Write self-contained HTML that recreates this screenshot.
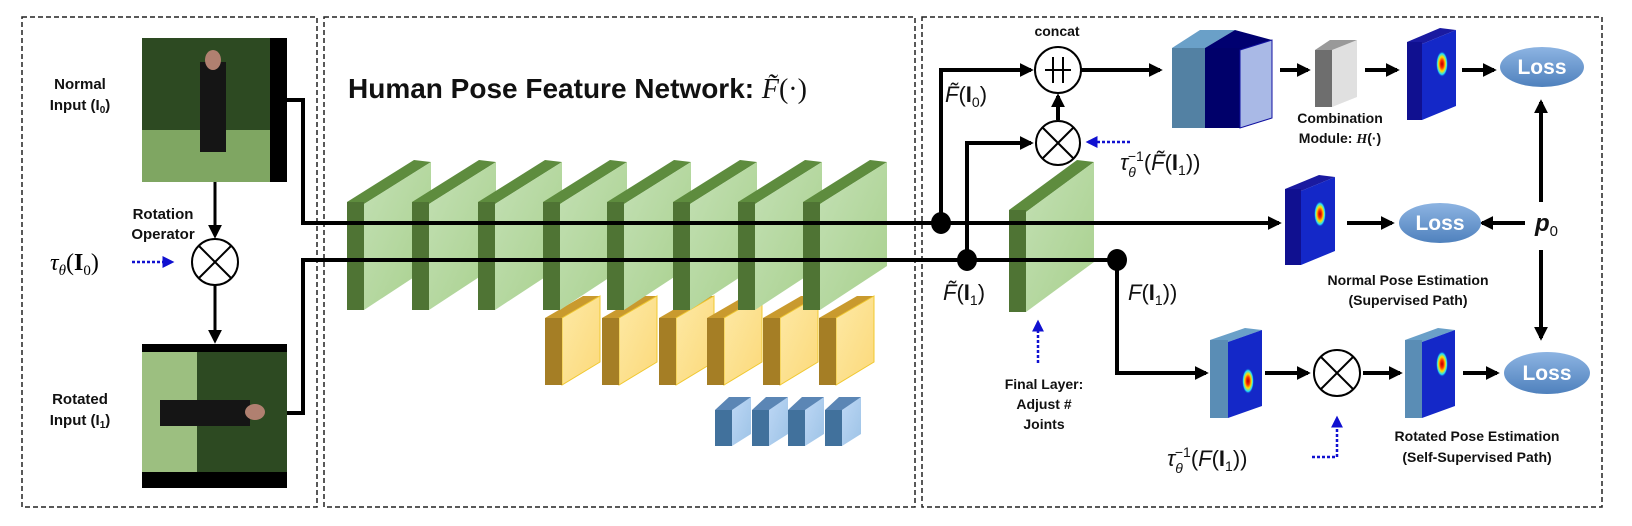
<!DOCTYPE html>
<html><head><meta charset="utf-8"><style>
body{margin:0;background:#fff}
svg{display:block}
text{font-family:"Liberation Sans",sans-serif}
.m{font-family:"Liberation Serif",serif}
</style></head><body>
<svg width="1632" height="526" viewBox="0 0 1632 526" xmlns="http://www.w3.org/2000/svg">
<defs>
<marker id="A" viewBox="0 0 10 10" markerWidth="14" markerHeight="14" refX="8" refY="5" orient="auto" markerUnits="userSpaceOnUse"><path d="M0,0 L10,5 L0,10 z" fill="#000"/></marker>
<marker id="b" viewBox="0 0 10 10" markerWidth="12" markerHeight="12" refX="8" refY="5" orient="auto" markerUnits="userSpaceOnUse"><path d="M0,0 L10,5 L0,10 z" fill="#1010d0"/></marker>
<radialGradient id="hm" cx="0.5" cy="0.5" r="0.5"><stop offset="0" stop-color="#b00000"/><stop offset="0.3" stop-color="#ff3000"/><stop offset="0.55" stop-color="#ffe000"/><stop offset="0.8" stop-color="#20e0ff"/><stop offset="1" stop-color="#1020c0" stop-opacity="0"/></radialGradient>
<linearGradient id="gl" x1="0" y1="0" x2="1" y2="1"><stop offset="0" stop-color="#c3e0b4"/><stop offset="1" stop-color="#a8d08d"/></linearGradient>
<linearGradient id="yl" x1="0" y1="0" x2="1" y2="1"><stop offset="0" stop-color="#fde9a5"/><stop offset="1" stop-color="#fcd97a"/></linearGradient>
<linearGradient id="bl" x1="0" y1="0" x2="1" y2="1"><stop offset="0" stop-color="#bdd7f5"/><stop offset="1" stop-color="#9dc3e6"/></linearGradient>
<linearGradient id="lo" x1="0" y1="0" x2="0" y2="1"><stop offset="0" stop-color="#8db4e2"/><stop offset="1" stop-color="#4f81bd"/></linearGradient>
<g id="gb"><polygon points="0,202 67,160 84,162 17,204" fill="#5e8c3e"/><polygon points="17,204 84,162 84,266 17,310" fill="url(#gl)"/><rect x="0" y="202" width="17" height="108" fill="#4f7434"/></g>
<g id="yb"><polygon points="0,318 38,296 55,296 17,318" fill="#c99a2e"/><polygon points="17,318 55,296 55,362 17,385" fill="url(#yl)" stroke="#f0c830"/><rect x="0" y="318" width="17" height="67" fill="#a57e25"/></g>
<g id="bb"><polygon points="0,410 14,397 36,397 22,410" fill="#5b86b5"/><polygon points="17,410 36,397 36,434 17,446" fill="url(#bl)"/><rect x="0" y="410" width="17" height="36" fill="#41719c"/></g>
</defs>

<g fill="none" stroke="#222" stroke-width="1.5" stroke-dasharray="5,3">
<rect x="22" y="17" width="295" height="490"/>
<rect x="324" y="17" width="591" height="490"/>
<rect x="922" y="17" width="680" height="490"/>
</g>

<!-- photos -->
<rect x="142" y="38" width="145" height="144" fill="#000"/>
<rect x="142" y="38" width="128" height="144" fill="#2d4a22"/>
<rect x="142" y="130" width="128" height="52" fill="#7fa662"/>
<rect x="200" y="62" width="26" height="90" fill="#151515"/>
<ellipse cx="213" cy="60" rx="8" ry="10" fill="#b08070"/>
<rect x="142" y="344" width="145" height="144" fill="#000"/>
<rect x="142" y="352" width="145" height="120" fill="#2d4a22"/>
<rect x="142" y="352" width="55" height="120" fill="#9cbf80"/>
<rect x="160" y="400" width="90" height="26" fill="#151515"/>
<ellipse cx="255" cy="412" rx="10" ry="8" fill="#b08070"/>

<g font-weight="bold" font-size="15" text-anchor="middle" fill="#111">
<text x="80" y="89">Normal</text><text x="80" y="110">Input (I<tspan font-size="10" dy="3">0</tspan><tspan dy="-3">)</tspan></text>
<text x="163" y="219">Rotation</text><text x="163" y="239">Operator</text>
<text x="80" y="404">Rotated</text><text x="80" y="425">Input (I<tspan font-size="10" dy="3">1</tspan><tspan dy="-3">)</tspan></text>
</g>
<text class="m" x="50" y="270" font-size="24" font-style="italic">τ<tspan font-size="15" dy="5">θ</tspan><tspan dy="-5" font-style="normal">(<tspan font-weight="bold">I</tspan><tspan font-size="15" dy="5">0</tspan><tspan dy="-5">)</tspan></tspan></text>
<line x1="132" y1="262" x2="172" y2="262" stroke="#1010d0" stroke-width="2.5" stroke-dasharray="3,2" marker-end="url(#b)"/>
<g stroke="#000" stroke-width="3" fill="none">
<line x1="215" y1="182" x2="215" y2="236" marker-end="url(#A)"/>
<line x1="215" y1="285" x2="215" y2="341" marker-end="url(#A)"/>
</g>
<g stroke="#000" stroke-width="2" fill="#fff"><circle cx="215" cy="262" r="23"/><line x1="199" y1="246" x2="231" y2="278"/><line x1="231" y1="246" x2="199" y2="278"/></g>

<text x="348" y="98" font-size="28" font-weight="bold" fill="#111">Human Pose Feature Network: <tspan class="m" font-style="italic" font-weight="normal">F̃</tspan><tspan class="m" font-weight="normal">(·)</tspan></text>

<use href="#bb" x="715"/><use href="#bb" x="752"/><use href="#bb" x="788"/><use href="#bb" x="825"/>
<use href="#yb" x="545"/><use href="#yb" x="602"/><use href="#yb" x="659"/><use href="#yb" x="707"/><use href="#yb" x="763"/><use href="#yb" x="819"/>
<use href="#gb" x="347"/><use href="#gb" x="412"/><use href="#gb" x="478"/><use href="#gb" x="543"/><use href="#gb" x="607"/><use href="#gb" x="673"/><use href="#gb" x="738"/><use href="#gb" x="803"/>
<g><polygon points="1009,210 1077,160 1094,162 1026,212" fill="#5e8c3e"/><polygon points="1026,212 1094,162 1094,262 1026,312" fill="url(#gl)"/><rect x="1009" y="210" width="17" height="102" fill="#4f7434"/></g>

<g stroke="#000" stroke-width="4" fill="none">
<polyline points="287,100 303,100 303,223 1279,223" marker-end="url(#A)"/>
<polyline points="287,413 303,413 303,260 1117,260 1117,373 1206,373" marker-end="url(#A)"/>
<polyline points="941,223 941,70 1031,70" marker-end="url(#A)"/>
<polyline points="967,260 967,143 1031,143" marker-end="url(#A)"/>
<line x1="1058" y1="120" x2="1058" y2="96" marker-end="url(#A)"/>
<line x1="1081" y1="70" x2="1160" y2="70" marker-end="url(#A)"/>
<line x1="1280" y1="70" x2="1308" y2="70" marker-end="url(#A)"/>
<line x1="1365" y1="70" x2="1397" y2="70" marker-end="url(#A)"/>
<line x1="1462" y1="70" x2="1494" y2="70" marker-end="url(#A)"/>
<line x1="1347" y1="223" x2="1392" y2="223" marker-end="url(#A)"/>
<line x1="1525" y1="223" x2="1482" y2="223" marker-end="url(#A)"/>
<line x1="1541" y1="202" x2="1541" y2="102" marker-end="url(#A)"/>
<line x1="1541" y1="250" x2="1541" y2="338" marker-end="url(#A)"/>
<line x1="1265" y1="373" x2="1308" y2="373" marker-end="url(#A)"/>
<line x1="1363" y1="373" x2="1400" y2="373" marker-end="url(#A)"/>
<line x1="1463" y1="373" x2="1497" y2="373" marker-end="url(#A)"/>
</g>
<g fill="#000"><ellipse cx="941" cy="223" rx="10" ry="11"/><ellipse cx="967" cy="260" rx="10" ry="11"/><ellipse cx="1117" cy="260" rx="10" ry="11"/></g>

<g stroke="#000" stroke-width="2" fill="#fff">
<circle cx="1058" cy="70" r="23"/><line x1="1053" y1="57" x2="1053" y2="83"/><line x1="1063" y1="57" x2="1063" y2="83"/><line x1="1045" y1="70" x2="1071" y2="70"/>
<circle cx="1058" cy="143" r="22"/><line x1="1043" y1="128" x2="1073" y2="158"/><line x1="1073" y1="128" x2="1043" y2="158"/>
<circle cx="1337" cy="373" r="23"/><line x1="1321" y1="357" x2="1353" y2="389"/><line x1="1353" y1="357" x2="1321" y2="389"/>
</g>

<!-- big concat block -->
<polygon points="1172,48 1200,30 1235,30 1205,48" fill="#6aa0c8"/>
<rect x="1172" y="48" width="33" height="80" fill="#5381a3"/>
<polygon points="1205,48 1235,30 1272,40 1240,50" fill="#000070"/>
<rect x="1205" y="48" width="35" height="80" fill="#00006a"/>
<polygon points="1240,50 1272,40 1272,118 1240,128" fill="#a9b9e6" stroke="#1010a0"/>
<!-- gray -->
<polygon points="1315,50 1330,40 1357,40 1338,50" fill="#999"/>
<rect x="1315" y="50" width="17" height="57" fill="#6e6e6e"/>
<polygon points="1332,50 1357,40 1357,97 1332,107" fill="#e0e0e0"/>
<!-- heatmaps -->
<polygon points="1407,42 1440,28 1456,30 1422,44" fill="#1a1aa0"/><rect x="1407" y="42" width="15" height="78" fill="#101090"/><polygon points="1422,44 1456,30 1456,106 1422,120" fill="#1428c8"/><ellipse cx="1442" cy="64" rx="6" ry="13" fill="url(#hm)"/>
<polygon points="1285,189 1319,175 1335,177 1301,191" fill="#1a1aa0"/><rect x="1285" y="189" width="16" height="76" fill="#101090"/><polygon points="1301,191 1335,177 1335,251 1301,265" fill="#1428c8"/><ellipse cx="1320" cy="214" rx="6" ry="13" fill="url(#hm)"/>
<polygon points="1210,340 1245,328 1262,330 1228,342" fill="#6aa0c8"/><rect x="1210" y="340" width="18" height="78" fill="#5a8db5"/><polygon points="1228,342 1262,330 1262,406 1228,418" fill="#1428c8"/><ellipse cx="1248" cy="381" rx="6" ry="13" fill="url(#hm)"/>
<polygon points="1405,340 1438,328 1455,330 1422,342" fill="#6aa0c8"/><rect x="1405" y="340" width="17" height="78" fill="#5a8db5"/><polygon points="1422,342 1455,330 1455,406 1422,418" fill="#1428c8"/><ellipse cx="1442" cy="364" rx="6" ry="13" fill="url(#hm)"/>
<g fill="url(#lo)"><ellipse cx="1542" cy="67" rx="42" ry="20"/><ellipse cx="1440" cy="223" rx="41" ry="20"/><ellipse cx="1547" cy="373" rx="43" ry="21"/></g>
<g fill="#fff" font-size="21" font-weight="bold" text-anchor="middle"><text x="1542" y="74">Loss</text><text x="1440" y="230">Loss</text><text x="1547" y="380">Loss</text></g>

<g font-weight="bold" font-size="14" text-anchor="middle" fill="#111">
<text x="1057" y="36">concat</text>
<text x="1340" y="123">Combination</text><text x="1340" y="143">Module: <tspan font-style="italic" class="m">H</tspan>(·)</text>
<text x="1408" y="285">Normal Pose Estimation</text><text x="1408" y="305">(Supervised Path)</text>
<text x="1477" y="441">Rotated Pose Estimation</text><text x="1477" y="462">(Self-Supervised Path)</text>
<text x="1044" y="389">Final Layer:</text><text x="1044" y="409">Adjust #</text><text x="1044" y="429">Joints</text>
</g>
<g class="m" font-size="22" fill="#111">
<text x="945" y="102"><tspan font-style="italic">F̃</tspan>(<tspan font-weight="bold">I</tspan><tspan font-size="14" dy="5">0</tspan><tspan dy="-5">)</tspan></text>
<text x="943" y="300"><tspan font-style="italic">F̃</tspan>(<tspan font-weight="bold">I</tspan><tspan font-size="14" dy="5">1</tspan><tspan dy="-5">)</tspan></text>
<text x="1128" y="300"><tspan font-style="italic">F</tspan>(<tspan font-weight="bold">I</tspan><tspan font-size="14" dy="5">1</tspan><tspan dy="-5">))</tspan></text>
<text x="1120" y="170"><tspan font-style="italic">τ</tspan><tspan font-size="14" dy="7" font-style="italic">θ</tspan><tspan font-size="14" dx="-8" dy="-16">−1</tspan><tspan dy="9">(<tspan font-style="italic">F̃</tspan>(<tspan font-weight="bold">I</tspan><tspan font-size="14" dy="5">1</tspan><tspan dy="-5">))</tspan></tspan></text>
<text x="1167" y="466"><tspan font-style="italic">τ</tspan><tspan font-size="14" dy="7" font-style="italic">θ</tspan><tspan font-size="14" dx="-8" dy="-16">−1</tspan><tspan dy="9">(<tspan font-style="italic">F</tspan>(<tspan font-weight="bold">I</tspan><tspan font-size="14" dy="5">1</tspan><tspan dy="-5">))</tspan></tspan></text>
<text x="1535" y="231" font-style="italic" font-weight="bold" font-size="24">p<tspan font-size="15" dy="5" font-weight="normal" font-style="normal">0</tspan></text>
</g>
<g stroke="#1010d0" stroke-width="2.5" stroke-dasharray="3,2" fill="none">
<line x1="1130" y1="142" x2="1088" y2="142" marker-end="url(#b)"/>
<line x1="1038" y1="363" x2="1038" y2="322" marker-end="url(#b)"/>
<polyline points="1312,457 1337,457 1337,418" marker-end="url(#b)"/>
</g>
</svg>
</body></html>
